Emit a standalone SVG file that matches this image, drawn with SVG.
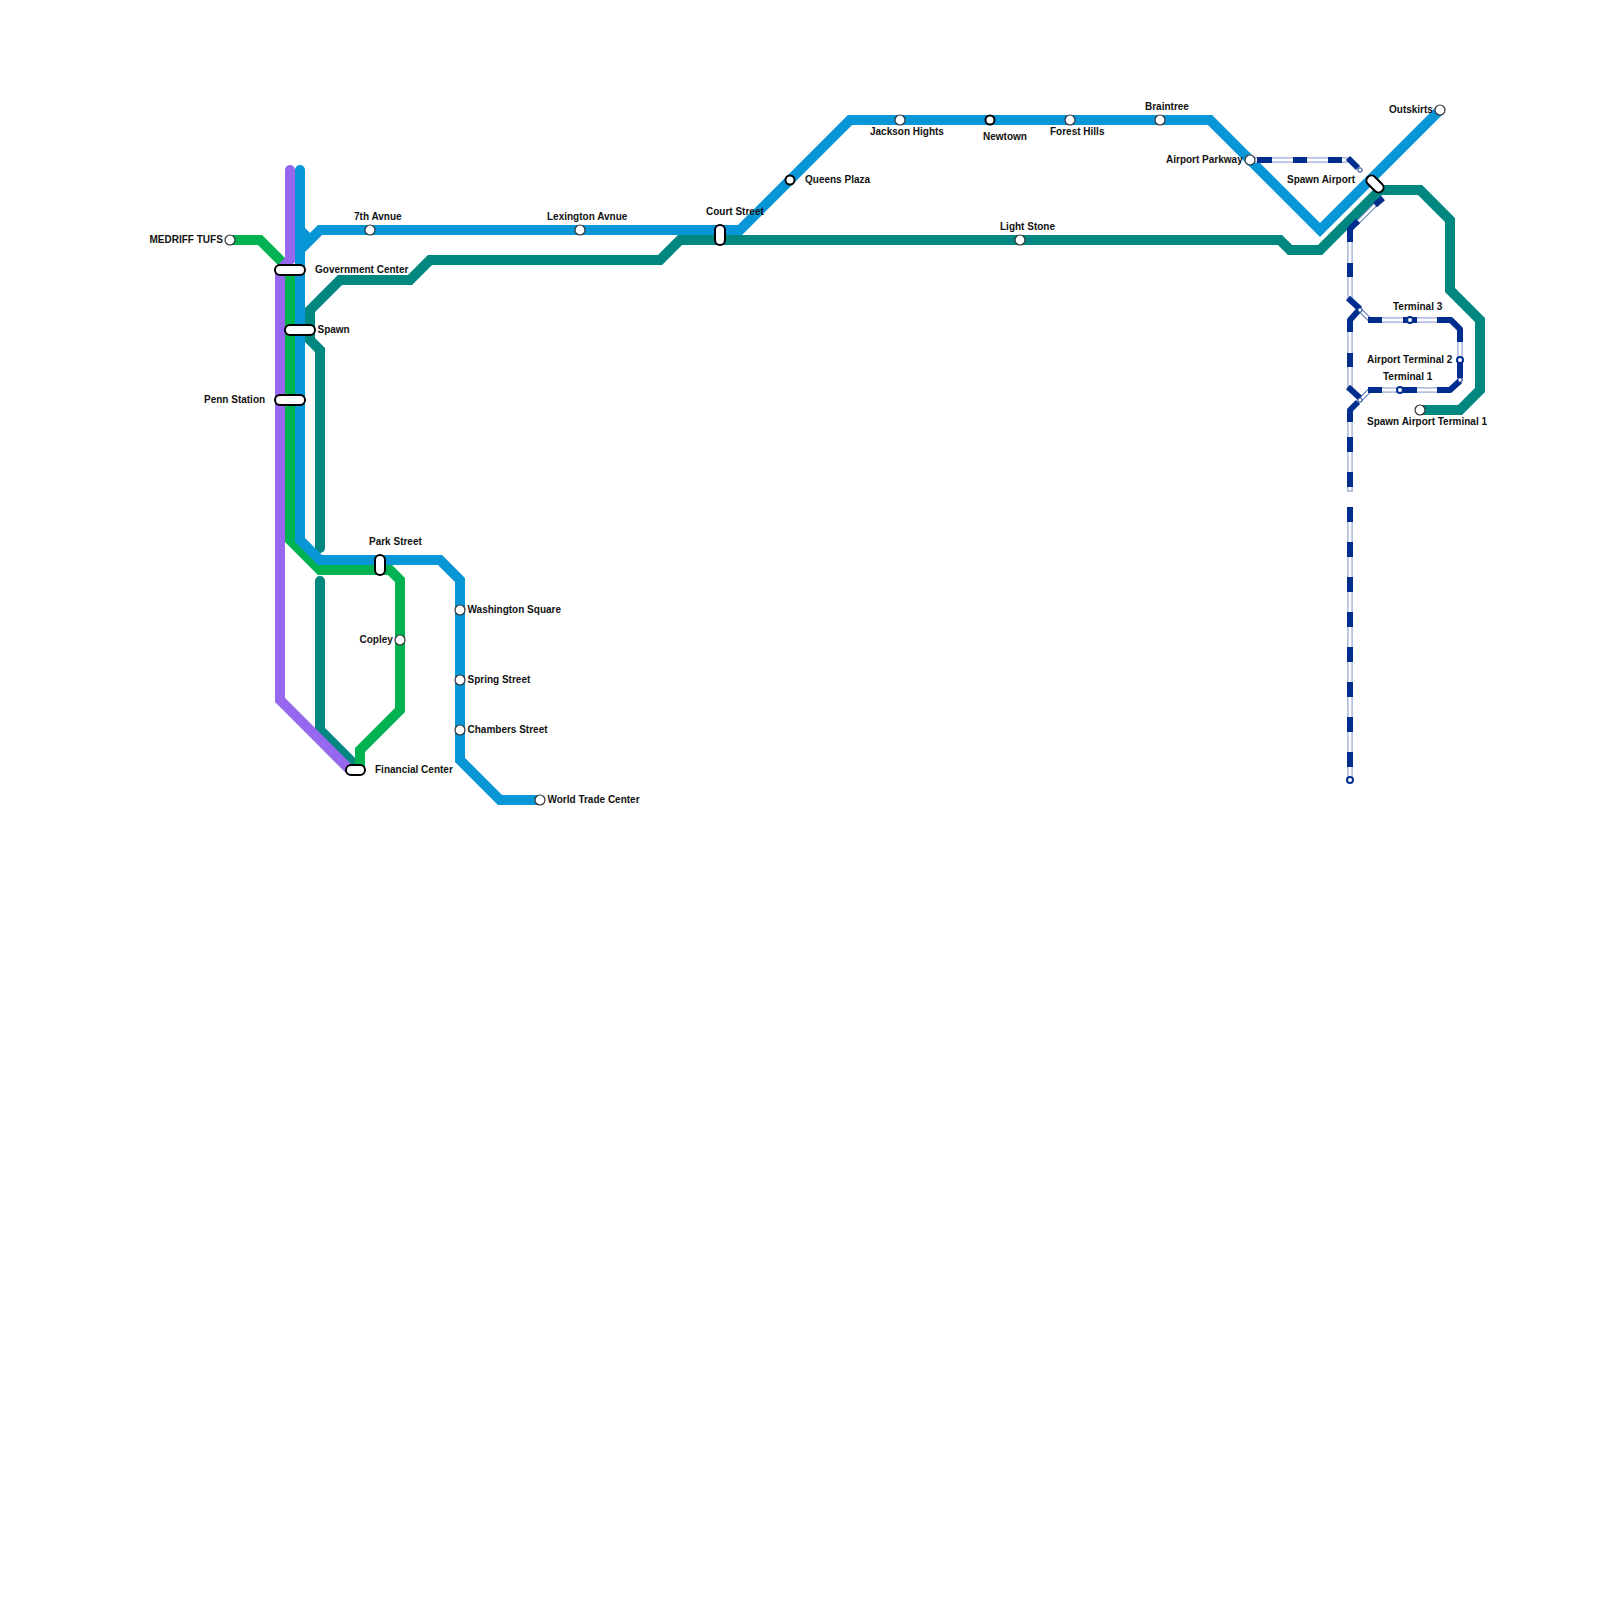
<svg xmlns="http://www.w3.org/2000/svg" width="1600" height="1600" viewBox="0 0 1600 1600">
<style>
.l{fill:none;stroke-width:10;stroke-linejoin:miter}
.r{stroke-linecap:round}
.base{fill:none;stroke:#b4c1e0;stroke-width:6}
.in{fill:none;stroke:#fff;stroke-width:2.5}
.thin{fill:none;stroke:#4566ae;stroke-width:4.5}
.nv{fill:none;stroke:#012d8e;stroke-width:6;stroke-linejoin:round}
.st{fill:#fff;stroke:#333;stroke-width:1.2}
.st2{fill:#fff;stroke:#000;stroke-width:2}
.sm{fill:#fff;stroke:#012d8e;stroke-width:2}
.end{fill:#fff;stroke:#012d8e;stroke-width:1}
.pill{fill:#fff;stroke:#000;stroke-width:2}
text{font-family:"Liberation Sans",Arial,sans-serif;font-size:10px;font-weight:700;fill:#111}
</style>
<rect width="1600" height="1600" fill="#fff"/>
<g id="connectors">
<path class="l" stroke="#00b251" d="M230 240H260L290 270V540L320 570H390L400 580V710L360 750V768"/>
<path class="l r" stroke="#008780" d="M1420 410H1460L1480 390V320L1450 290V220L1420 190H1380L1320 250H1290L1280 240H680L660 260H430L410 280H340L310 310V340L320 350V548" />
<path class="l r" stroke="#008780" d="M320 581V730L358 768"/>
<path class="l r" stroke="#9768ee" d="M290 170V260L280 270V700L350 770"/>
<path class="l" stroke="#00b251" d="M360 750V768"/>
<path class="l r" stroke="#0896d7" d="M300 170V540L320 560H440L460 580V760L500 800H540"/>
<path class="l" stroke="#0896d7" d="M300 230L310 240M300 250L320 230H740L850 120H1210L1320 230L1440 110"/>
<g id="airport-line-base">
<path class="thin" d="M1360 310L1370 320M1370 390L1360 400M1377 203L1356 224"/>
<path class="base" d="M1250 160H1350M1350 230V300M1370 320H1450L1460 330V380L1450 390H1370M1350 320V390M1350 410V492M1350 507V780"/>
<path class="in" d="M1250 160H1350M1350 230V300M1360 310L1370 320H1450L1460 330V380L1450 390H1370L1360 400M1350 320V390M1350 410V490M1350 507V780M1380 200L1350 230"/>
</g>
<g id="airport-line-dashes">
<path class="nv" d="M1257 160H1272M1293 160H1307M1328 160H1342M1348 158L1358 168"/>
<path class="nv" d="M1383 198L1375 205M1358 221L1350 229V242M1350 263V277M1348 298L1360 309M1358 311L1350 320V332M1350 353V367M1348 387L1360 398M1358 402L1350 410V422M1350 437V452M1350 472V487"/>
<path class="nv" d="M1350 507V522M1350 542V557M1350 577V592M1350 612V627M1350 647V662M1350 682V697M1350 717V732M1350 752V767"/>
<path class="nv" d="M1368 320H1382M1403 320H1417M1437 320H1451L1460 329V342M1460 360V378M1460 381L1450 390H1437M1403 390H1417M1368 390H1382"/>
<circle class="end" cx="1360" cy="170" r="2.200"/>
<circle class="end" cx="1360" cy="310" r="2.200"/>
<circle class="end" cx="1360" cy="400" r="2.200"/>
<circle class="end" cx="1460" cy="380" r="2.200"/>
</g>
</g>
<g id="nodes">
<g id="medriff-tufs"><circle class="st" cx="230" cy="240" r="5"/><text x="149.500" y="243">MEDRIFF TUFS</text></g>
<g id="seventh-avnue"><circle class="st" cx="370" cy="230" r="5"/><text x="354" y="220">7th Avnue</text></g>
<g id="lexington-avnue"><circle class="st" cx="580" cy="230" r="5"/><text x="547" y="220">Lexington Avnue</text></g>
<g id="court-street"><rect class="pill" x="715" y="225" width="10" height="20" rx="5"/><text x="706" y="215">Court Street</text></g>
<g id="queens-plaza"><circle class="st2" cx="790" cy="180" r="4.500"/><text x="805" y="183">Queens Plaza</text></g>
<g id="jackson-hights"><circle class="st" cx="900" cy="120" r="5"/><text x="870" y="135">Jackson Hights</text></g>
<g id="newtown"><circle class="st2" cx="990" cy="120" r="4.500"/><text x="983" y="140">Newtown</text></g>
<g id="forest-hills"><circle class="st" cx="1070" cy="120" r="5"/><text x="1050" y="135">Forest Hills</text></g>
<g id="braintree"><circle class="st" cx="1160" cy="120" r="5"/><text x="1145" y="110">Braintree</text></g>
<g id="light-stone"><circle class="st" cx="1020" cy="240" r="5"/><text x="1000" y="230">Light Stone</text></g>
<g id="airport-parkway"><circle class="st" cx="1250" cy="160" r="5"/><text x="1166" y="163">Airport Parkway</text></g>
<g id="outskirts"><circle class="st" cx="1440" cy="110" r="5"/><text x="1389" y="113">Outskirts</text></g>
<g id="spawn-airport"><rect class="pill" x="1365" y="179" width="20" height="10" rx="5" transform="rotate(45 1375 184)"/><text x="1287" y="183">Spawn Airport</text></g>
<g id="terminal-3"><circle class="sm" cx="1410" cy="320" r="3"/><text x="1393" y="310">Terminal 3</text></g>
<g id="airport-terminal-2"><circle class="sm" cx="1460" cy="360" r="3"/><text x="1367" y="363">Airport Terminal 2</text></g>
<g id="terminal-1"><circle class="sm" cx="1400" cy="390" r="3"/><text x="1383" y="380">Terminal 1</text></g>
<g id="spawn-airport-terminal-1"><circle class="st" cx="1420" cy="410" r="5"/><text x="1367" y="425">Spawn Airport Terminal 1</text></g>
<g id="government-center"><rect class="pill" x="275" y="265" width="30" height="10" rx="5"/><text x="315" y="273">Government Center</text></g>
<g id="spawn"><rect class="pill" x="285" y="325" width="30" height="10" rx="5"/><text x="317.500" y="333">Spawn</text></g>
<g id="penn-station"><rect class="pill" x="275" y="395" width="30" height="10" rx="5"/><text x="204" y="403">Penn Station</text></g>
<g id="park-street"><rect class="pill" x="375" y="555" width="10" height="20" rx="5"/><text x="369" y="545">Park Street</text></g>
<g id="copley"><circle class="st" cx="400" cy="640" r="5"/><text x="359.500" y="643">Copley</text></g>
<g id="washington-square"><circle class="st" cx="460" cy="610" r="5"/><text x="467.500" y="613">Washington Square</text></g>
<g id="spring-street"><circle class="st" cx="460" cy="680" r="5"/><text x="467.500" y="683">Spring Street</text></g>
<g id="chambers-street"><circle class="st" cx="460" cy="730" r="5"/><text x="467.500" y="733">Chambers Street</text></g>
<g id="financial-center"><rect class="pill" x="346" y="765" width="19" height="10" rx="5"/><text x="375" y="773">Financial Center</text></g>
<g id="world-trade-center"><circle class="st" cx="540" cy="800" r="5"/><text x="547.500" y="803">World Trade Center</text></g>
<g id="terminal-end"><circle class="sm" cx="1350" cy="780" r="3"/></g>
</g>
</svg>
